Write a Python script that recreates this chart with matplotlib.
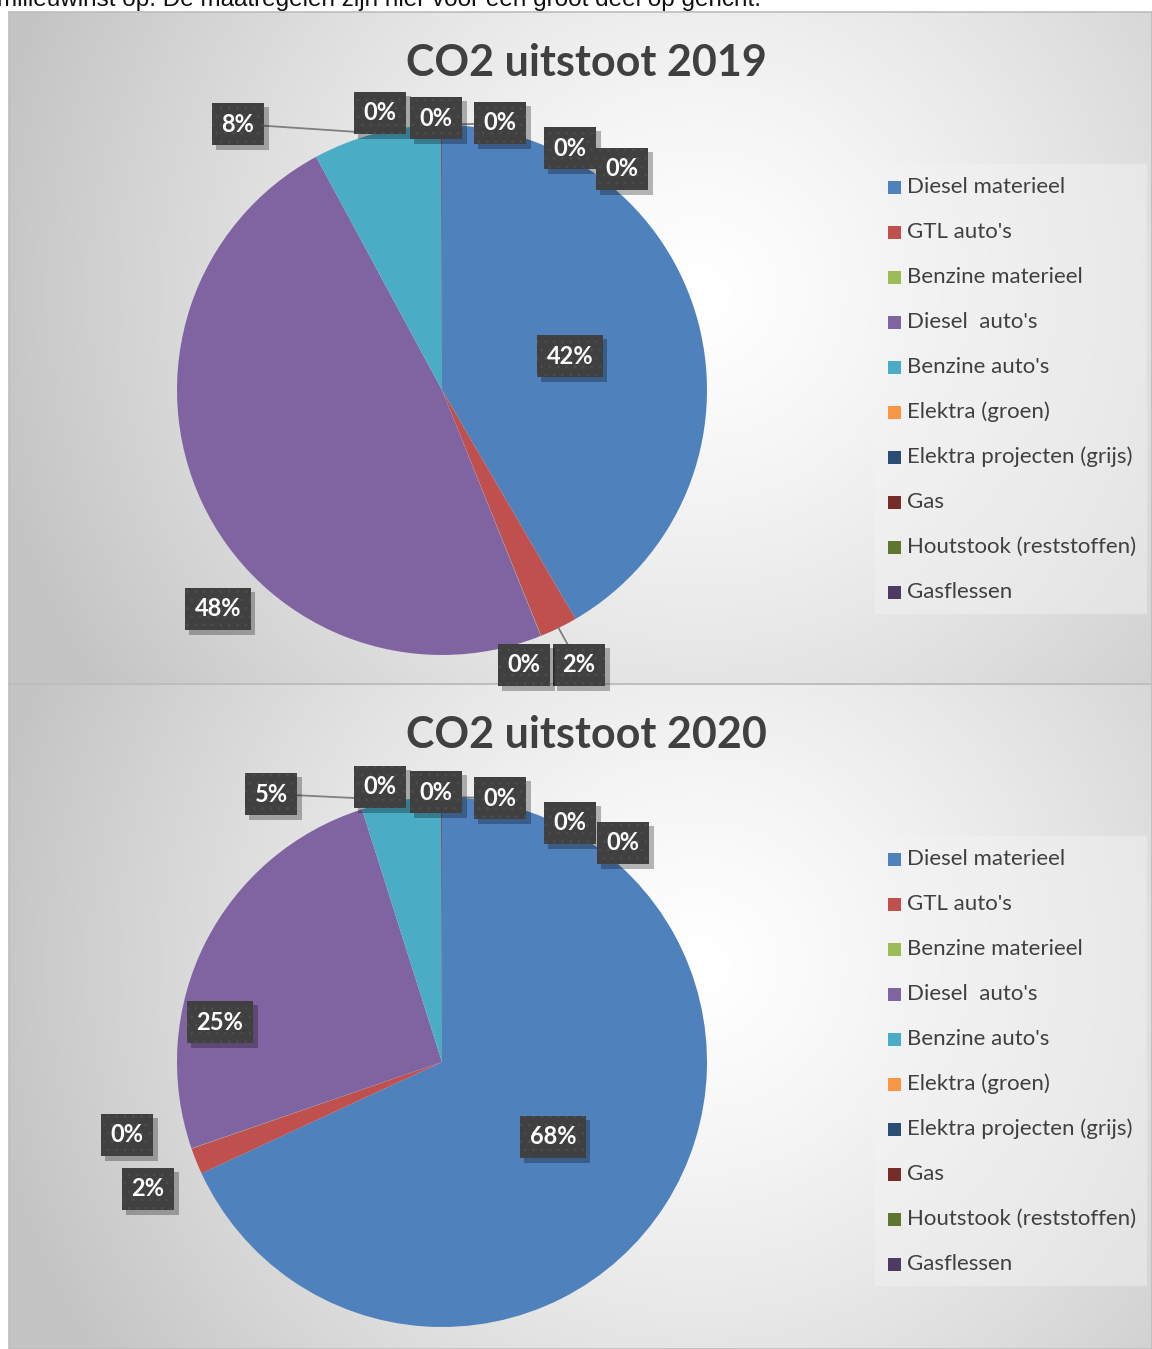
import numpy as np
import matplotlib
matplotlib.use("Agg")
import matplotlib.pyplot as plt
from matplotlib.patches import Rectangle
from matplotlib import patheffects as pe

W, H = 1152, 1349
DPI = 100

CATEGORIES = ["Diesel materieel", "GTL auto's", "Benzine materieel", "Diesel  auto's",
              "Benzine auto's", "Elektra (groen)", "Elektra projecten (grijs)", "Gas",
              "Houtstook (reststoffen)", "Gasflessen"]
COLORS = ["#4F81BD", "#C0504D", "#9BBB59", "#8064A2", "#4BACC6", "#F79646",
          "#2C4D75", "#772C2A", "#5F7530", "#4D3B62"]
# percentage shares
SHARE_2019 = [41.6, 2.3, 0.02, 48.2, 7.8, 0.0, 0.02, 0.01, 0.0, 0.05]
SHARE_2020 = [68.1, 1.6, 0.02, 25.4, 4.8, 0.0, 0.02, 0.01, 0.0, 0.05]
YEARS = ["2019", "2020"]

# label placement (px offset from pie centre, y down) and leader-line flags
LBL_2019 = [(128, -34), (137, 275), (82, 275), (-224, 219), (-204, -266),
            (-62, -277), (-6, -272), (58, -267), (128, -242), (180, -221)]
LBL_2020 = [(111, 75), (-294, 127), (-315, 73), (-222, -40), (-171, -268),
            (-62, -275), (-6, -270), (58, -264), (128, -239), (181, -219)]
LEAD_2019 = [0, 1, 0, 0, 1, 0, 0, 1, 0, 0]
LEAD_2020 = [0, 0, 0, 0, 1, 0, 0, 1, 0, 0]

FONT = ["Lato", "DejaVu Sans"]
PANELS = [(12, 684), (684, H)]
R = 265

plt.rcParams["hatch.linewidth"] = 0.6


class FlatShadow(pe.SimplePatchShadow):
    """patch shadow without the hatch pattern of the patch itself"""
    def draw_path(self, renderer, gc, tpath, affine, rgbFace):
        g = renderer.new_gc(); g.copy_properties(gc); g.set_hatch(None)
        super().draw_path(renderer, g, tpath, affine, rgbFace)
        g.restore()


def px_axes(fig, cx, cy, r):
    return fig.add_axes([(cx - r) / W, 1 - (cy + r) / H, 2 * r / W, 2 * r / H])


fig = plt.figure(figsize=(W / DPI, H / DPI), dpi=DPI)
bg = fig.add_axes([0, 0, 1, 1])
bg.set_xlim(0, W); bg.set_ylim(H, 0); bg.axis("off")

# radial grey gradient behind each chart panel
yy, xx = np.mgrid[0:H, 0:W]
img = np.ones((H, W, 3))
for top, bot in PANELS:
    d = np.hypot(xx - 700, yy - (top + 280)) / 720
    shade = 1 - 0.23 * np.clip(d, 0, 1) ** 1.3
    m = (yy >= top) & (yy < bot) & (xx >= 9)
    img[m] = shade[m][:, None]
bg.imshow(img, extent=(0, W, H, 0), interpolation="bilinear", aspect="auto")
for top, bot in PANELS:
    bg.add_patch(Rectangle((9, top), W - 9, bot - top, fill=False, ec="#bdbdbd", lw=1.2))

bg.text(-3, 6, "milieuwinst op. De maatregelen zijn hier voor een groot deel op gericht.",
        family=["Liberation Sans"], fontsize=17.5, color="#111111", va="baseline")

for k, (year, shares, lbls, leads) in enumerate(zip(
        YEARS, [SHARE_2019, SHARE_2020], [LBL_2019, LBL_2020], [LEAD_2019, LEAD_2020])):
    top = PANELS[k][0]
    cx, cy = 442, top + 378
    bg.text(586, top + 51, f"CO2 uitstoot {year}", family=FONT, fontsize=31,
            fontweight="bold", color="#404040", ha="center", va="center")

    ax = px_axes(fig, cx, cy, R)
    wedges, _ = ax.pie(shares, colors=COLORS, startangle=90, counterclock=False,
                       wedgeprops=dict(linewidth=0))
    ax.set_xlim(-1, 1); ax.set_ylim(-1, 1); ax.set_aspect("auto")

    total = sum(shares)
    for w, v, (dx, dy), lead in zip(wedges, shares, lbls, leads):
        lx, ly = dx / R, -dy / R
        if lead:
            mid = np.deg2rad((w.theta1 + w.theta2) / 2)
            ax.plot([lx, np.cos(mid)], [ly, np.sin(mid)], color="#7f7f7f", lw=1.3,
                    zorder=3, clip_on=False)
        t = ax.text(lx, ly, f"{round(v / total * 100)}%", fontsize=17, family=FONT,
                    fontweight="bold", color="white", ha="center", va="center", zorder=5,
                    bbox=dict(boxstyle="square,pad=0.42", fc="#404040", ec="#4e4e4e",
                              lw=0, hatch=".."))
        t.get_bbox_patch().set_path_effects(
            [FlatShadow(offset=(3, -3), shadow_rgbFace="black", alpha=0.28), pe.Normal()])

    # legend box
    ly0 = top + 152
    bg.add_patch(Rectangle((875, ly0), 272, 450, fc="#f4f4f4", alpha=0.45, lw=0))
    for i, (name, col) in enumerate(zip(CATEGORIES, COLORS)):
        yc = ly0 + 23 + 45 * i
        bg.add_patch(Rectangle((888, yc - 6.5), 13, 13, fc=col, lw=0))
        bg.text(907, yc, name, family=FONT, fontsize=16, color="#404040", va="center")

fig.savefig("out.png", dpi=DPI)
